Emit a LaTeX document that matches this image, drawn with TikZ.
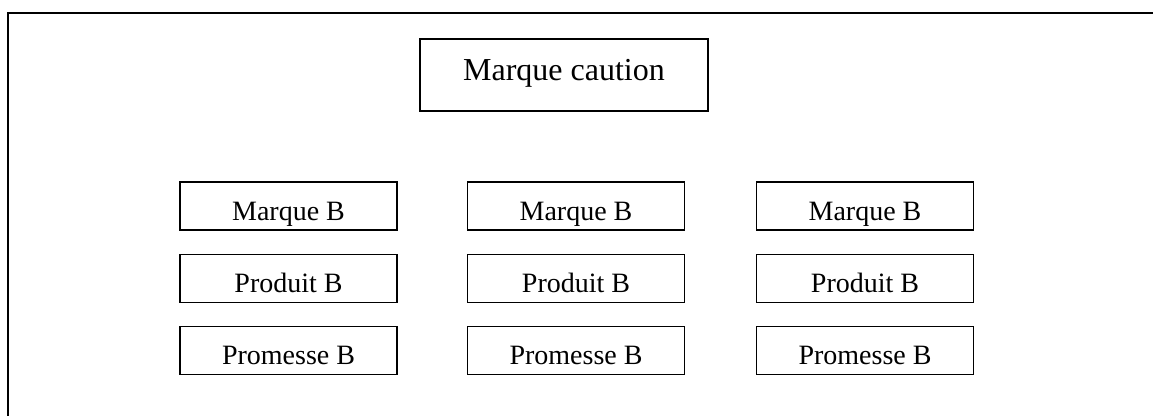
\documentclass[tikz,border=0pt]{standalone}
\usepackage{fontspec}
\setmainfont{Liberation Serif}
\begin{document}
\begin{tikzpicture}[x=1pt, y=-1pt,
  box/.style={draw, line width=1.5pt, minimum width=217pt, minimum height=48pt,
    inner sep=0pt, font=\fontsize{28}{34}\selectfont,
    text height=28pt, text depth=0pt},
  topbox/.style={draw, line width=1.5pt, minimum width=288pt, minimum height=72pt,
    inner sep=0pt, font=\fontsize{32}{38}\selectfont,
    text height=22pt, text depth=12pt}]
  \useasboundingbox (0,0) rectangle (1153,416);
  % frame
  \draw[line width=2pt] (1153,13) -- (8,13) -- (8,416);
  \node[topbox] (caution) at (564,75) {Marque caution};
  \foreach \i/\x in {1/288.5, 2/576, 3/865} {
    \node[box] (marque\i) at (\x,206) {Marque B};
    \node[box] (produit\i) at (\x,278.5) {Produit B};
    \node[box] (promesse\i) at (\x,350.5) {Promesse B};
  }
\end{tikzpicture}
\end{document}
